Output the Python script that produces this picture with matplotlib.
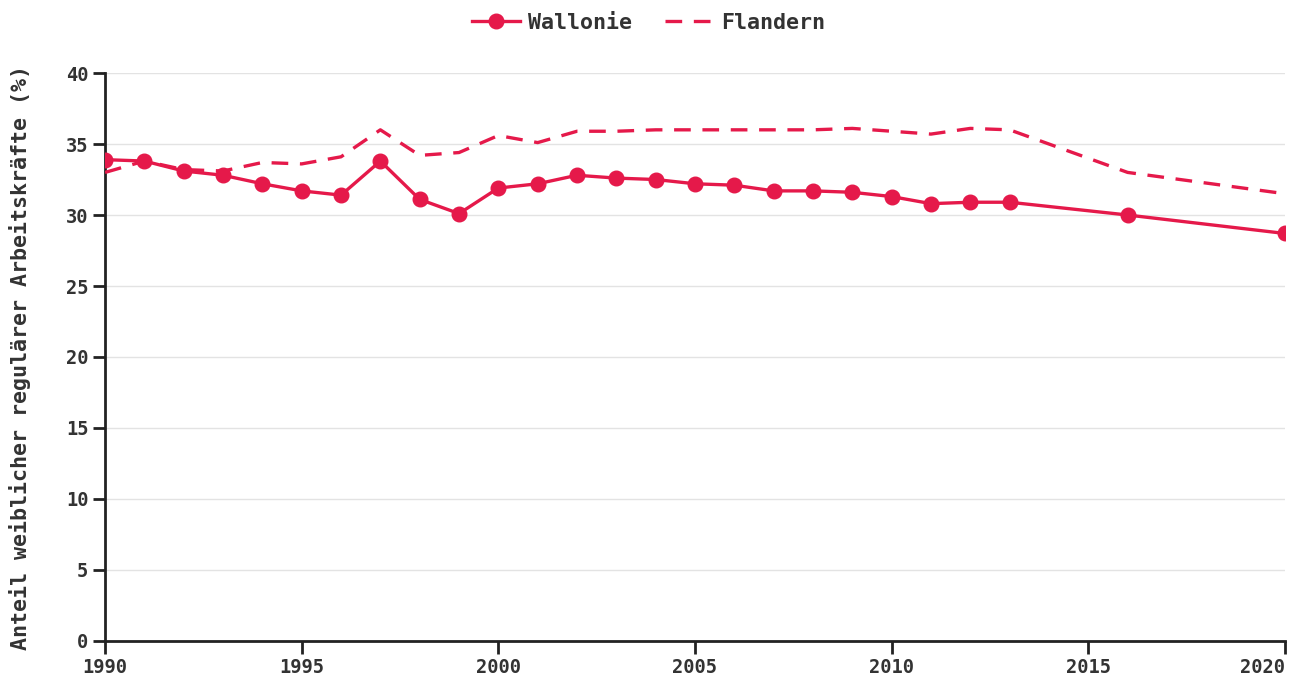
import matplotlib
matplotlib.use("Agg")
import matplotlib.pyplot as plt

# Daten
jahre = [1990, 1991, 1992, 1993, 1994, 1995, 1996, 1997, 1998, 1999, 2000, 2001, 2002,
         2003, 2004, 2005, 2006, 2007, 2008, 2009, 2010, 2011, 2012, 2013, 2016, 2020]
wallonie = [33.9, 33.8, 33.1, 32.8, 32.2, 31.7, 31.4, 33.8, 31.1, 30.1, 31.9, 32.2, 32.8,
            32.6, 32.5, 32.2, 32.1, 31.7, 31.7, 31.6, 31.3, 30.8, 30.9, 30.9, 30.0, 28.7]
flandern = [33.0, 33.8, 33.2, 33.1, 33.7, 33.6, 34.1, 36.0, 34.2, 34.4, 35.6, 35.1, 35.9,
            35.9, 36.0, 36.0, 36.0, 36.0, 36.0, 36.1, 35.9, 35.7, 36.1, 36.0, 33.0, 31.5]
y_ticks = [0, 5, 10, 15, 20, 25, 30, 35, 40]
x_ticks = [1990, 1995, 2000, 2005, 2010, 2015, 2020]

rot = "#e5194a"
text_col = "#333333"
plt.rcParams["font.family"] = "DejaVu Sans Mono"
plt.rcParams["font.weight"] = "bold"

fig = plt.figure(figsize=(12.97, 6.8), dpi=100)
ax = fig.add_axes([0.081, 0.0574, 0.9097, 0.8352])

ax.plot(jahre, wallonie, color=rot, lw=2.4, marker="o", ms=10.5, label="Wallonie", zorder=3)
ax.plot(jahre, flandern, color=rot, lw=2.4, ls=(0, (5, 3.5)), label="Flandern", zorder=3)

ax.set_xlim(1990, 2020)
ax.set_ylim(0, 40)
ax.set_xticks(x_ticks)
ax.set_yticks(y_ticks)
ax.grid(axis="y", color="#e3e3e3", lw=1)
ax.set_axisbelow(True)
for s in ["top", "right"]:
    ax.spines[s].set_visible(False)
for s in ["left", "bottom"]:
    ax.spines[s].set_color("#222222")
    ax.spines[s].set_linewidth(2)
ax.tick_params(length=9, width=2, color="#222222", labelsize=13.5, labelcolor=text_col, pad=3)
ax.get_xticklabels()[-1].set_horizontalalignment("right")
ax.set_ylabel("Anteil weiblicher regulärer Arbeitskräfte (%)", fontsize=15.6,
              color=text_col, fontweight="bold")
ax.yaxis.set_label_coords(-0.063, 0.5)

leg = fig.legend(loc="upper center", bbox_to_anchor=(0.5, 1.01), ncol=2, frameon=False,
                 fontsize=15.6, handlelength=2.2, columnspacing=1.5, handletextpad=0.4)
for t in leg.get_texts():
    t.set_color(text_col)

plt.savefig("out.png", dpi=100)
